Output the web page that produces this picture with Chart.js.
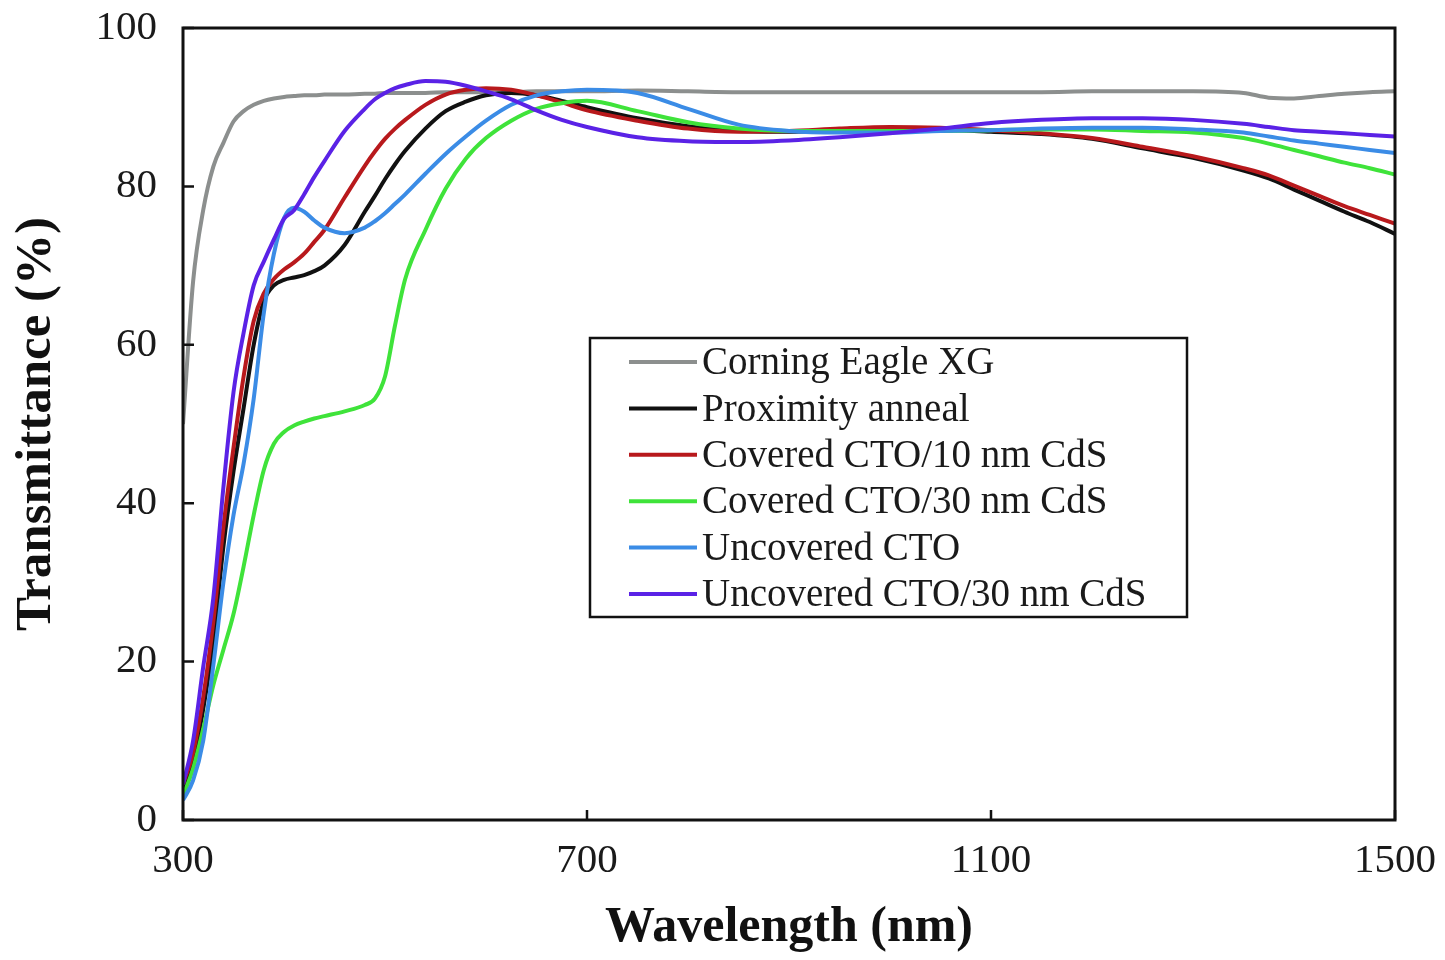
<!DOCTYPE html>
<html lang="en">
<head>
<meta charset="UTF-8">
<title>Transmittance</title>
<script src="https://cdn.jsdelivr.net/npm/chart.js@4.4.0/dist/chart.umd.min.js"></script>
<style>
    body { margin: 0; background: #ffffff; }
    #wrap { width: 1445px; height: 960px; }
</style>
</head>
<body>
<div id="wrap"><canvas id="transChart" width="1445" height="960"></canvas></div>
<script>
// wavelength grid (nm) shared by all curves
const wavelength = [300, 310, 320, 330, 340, 350, 360, 370, 380, 390, 400, 410, 420, 430, 440, 460, 480, 490, 500, 510, 520, 540, 560, 580, 600, 625, 650, 675, 700, 750, 800, 850, 900, 950, 1000, 1050, 1100, 1150, 1200, 1250, 1300, 1350, 1375, 1400, 1425, 1450, 1475, 1500];

// transmittance (%)
const corning = [50, 68, 77, 82.5, 85.5, 88.2, 89.5, 90.3, 90.8, 91.1, 91.3, 91.4, 91.5, 91.5, 91.6, 91.6, 91.7, 91.7, 91.8, 91.8, 91.8, 91.8, 91.9, 91.9, 91.9, 91.9, 92, 92, 92, 92.1, 92, 91.9, 91.9, 91.9, 91.9, 91.9, 91.9, 91.9, 92, 92, 92, 91.8, 91.2, 91.1, 91.4, 91.7, 91.9, 92];
const proximity = [4, 7.5, 14, 22.5, 34.5, 44, 52, 60, 65.5, 67.5, 68.2, 68.5, 68.8, 69.3, 70, 72.6, 76.8, 78.8, 80.9, 82.8, 84.5, 87.3, 89.5, 90.7, 91.5, 91.8, 91.5, 90.8, 90, 88.6, 87.6, 87, 86.9, 87.1, 87.3, 87.2, 86.9, 86.6, 86, 84.8, 83.6, 82, 81, 79.6, 78.2, 76.8, 75.5, 74];
const covered10 = [4.5, 8.5, 15.5, 25, 37, 47, 56, 63, 66.5, 68.3, 69.5, 70.4, 71.5, 73, 74.5, 78.6, 82.6, 84.4, 86, 87.3, 88.4, 90.3, 91.6, 92.2, 92.4, 92.2, 91.5, 90.6, 89.6, 88.3, 87.3, 86.9, 87, 87.3, 87.5, 87.4, 87.1, 86.7, 86.1, 85, 83.8, 82.3, 81.4, 80.1, 78.8, 77.5, 76.4, 75.3];
const covered30 = [3, 6.5, 11.5, 17, 21.5, 26, 32, 38.5, 44.2, 47.5, 49, 49.8, 50.3, 50.7, 51, 51.6, 52.4, 53.2, 56, 62.5, 68.3, 74.5, 79.7, 83.5, 86.1, 88.3, 89.8, 90.5, 90.8, 89.5, 88.1, 87.3, 87, 87, 87, 87, 87.1, 87.2, 87.2, 87, 86.8, 86.1, 85.4, 84.6, 83.8, 83, 82.3, 81.5];
const uncovered = [2.5, 5, 10, 19.5, 30, 38.5, 45, 53.2, 64, 71.5, 76, 77.3, 76.8, 75.7, 74.8, 74.1, 74.8, 75.6, 76.6, 77.8, 79, 81.6, 84.1, 86.3, 88.3, 90.3, 91.5, 92, 92.2, 91.8, 89.8, 87.8, 87, 86.8, 86.8, 87, 87.1, 87.3, 87.4, 87.4, 87.2, 86.8, 86.3, 85.8, 85.4, 85, 84.6, 84.2];
const uncovered30 = [4.5, 10, 19.3, 28, 42, 54, 61.5, 67.5, 70.5, 73.3, 75.9, 77, 79, 81.2, 83.2, 87, 89.8, 91, 91.8, 92.4, 92.8, 93.3, 93.2, 92.7, 92, 91, 89.6, 88.4, 87.5, 86.2, 85.7, 85.6, 85.8, 86.2, 86.7, 87.3, 88, 88.4, 88.6, 88.6, 88.4, 87.9, 87.5, 87.1, 86.9, 86.7, 86.5, 86.3];

const seriesNames = ['Corning Eagle XG', 'Proximity anneal', 'Covered CTO/10 nm CdS', 'Covered CTO/30 nm CdS', 'Uncovered CTO', 'Uncovered CTO/30 nm CdS'];
const seriesValues = [corning, proximity, covered10, covered30, uncovered, uncovered30];
const seriesColors = ['#8c8f8e', '#111111', '#b8191c', '#3fe33a', '#3b8ce6', '#5a22e6'];
const xTicks = [300, 700, 1100, 1500];
const yTicks = [0, 20, 40, 60, 80, 100];

const serif = "'Liberation Serif', 'Times New Roman', serif";

const datasets = seriesValues.map((vals, i) => ({
    label: seriesNames[i],
    data: wavelength.map((w, j) => ({ x: w, y: vals[j] })),
    borderColor: seriesColors[i],
    borderWidth: 4,
    pointRadius: 0,
    fill: false,
    cubicInterpolationMode: 'monotone',
    order: seriesValues.length - i
}));

// frame, inward ticks and boxed legend
const framePlugin = {
    id: 'frame',
    afterDraw(chart) {
        const ctx = chart.ctx;
        const a = chart.chartArea;
        const xs = chart.scales.x, ys = chart.scales.y;
        ctx.save();
        ctx.strokeStyle = '#111';
        ctx.lineWidth = 3;
        ctx.strokeRect(a.left, a.top, a.right - a.left, a.bottom - a.top);
        ctx.lineWidth = 2.5;
        ctx.beginPath();
        yTicks.forEach(v => {
            const y = ys.getPixelForValue(v);
            ctx.moveTo(a.left, y);
            ctx.lineTo(a.left + 11, y);
        });
        xTicks.forEach(v => {
            const x = xs.getPixelForValue(v);
            ctx.moveTo(x, a.bottom);
            ctx.lineTo(x, a.bottom - 10);
        });
        ctx.stroke();

        // legend
        const bx = a.left + 407, by = a.top + 310, bw = 597, bh = 279;
        ctx.fillStyle = '#fff';
        ctx.fillRect(bx, by, bw, bh);
        ctx.lineWidth = 2.5;
        ctx.strokeStyle = '#111';
        ctx.strokeRect(bx, by, bw, bh);
        ctx.font = '39px ' + serif;
        ctx.textBaseline = 'middle';
        ctx.textAlign = 'left';
        seriesNames.forEach((name, i) => {
            const ry = by + 24 + i * 46.4;
            ctx.strokeStyle = seriesColors[i];
            ctx.lineWidth = 4;
            ctx.beginPath();
            ctx.moveTo(bx + 39, ry);
            ctx.lineTo(bx + 107, ry);
            ctx.stroke();
            ctx.fillStyle = '#1a1a1a';
            ctx.fillText(name, bx + 112, ry + 2);
        });
        ctx.restore();
    }
};

new Chart(document.getElementById('transChart'), {
    type: 'line',
    data: { datasets: datasets },
    options: {
        responsive: false,
        animation: false,
        layout: { padding: { left: 0, right: 50, top: 28, bottom: 0 } },
        plugins: {
            legend: { display: false },
            tooltip: { enabled: false }
        },
        scales: {
            x: {
                type: 'linear',
                min: 300,
                max: 1500,
                afterFit(s) { s.height = 140; s.paddingLeft = 0; s.paddingRight = 0; },
                afterBuildTicks(s) { s.ticks = xTicks.map(v => ({ value: v })); },
                grid: { display: false },
                border: { display: false },
                ticks: {
                    color: '#1a1a1a',
                    padding: 9,
                    maxRotation: 0,
                    callback: v => String(v),
                    font: { family: serif, size: 41 }
                },
                title: {
                    display: true,
                    text: 'Wavelength (nm)',
                    color: '#111',
                    padding: { top: 0, bottom: 2 },
                    font: { family: serif, size: 50, weight: 'bold' }
                }
            },
            y: {
                min: 0,
                max: 100,
                afterFit(s) { s.width = 183; s.paddingTop = 0; s.paddingBottom = 0; },
                afterBuildTicks(s) { s.ticks = yTicks.map(v => ({ value: v })); },
                grid: { display: false },
                border: { display: false },
                ticks: {
                    color: '#1a1a1a',
                    padding: 18,
                    callback: v => String(v),
                    font: { family: serif, size: 41 }
                },
                title: {
                    display: true,
                    text: 'Transmittance (%)',
                    color: '#111',
                    padding: { top: 6, bottom: 0 },
                    font: { family: serif, size: 51, weight: 'bold' }
                }
            }
        }
    },
    plugins: [framePlugin]
});
</script>
</body>
</html>
